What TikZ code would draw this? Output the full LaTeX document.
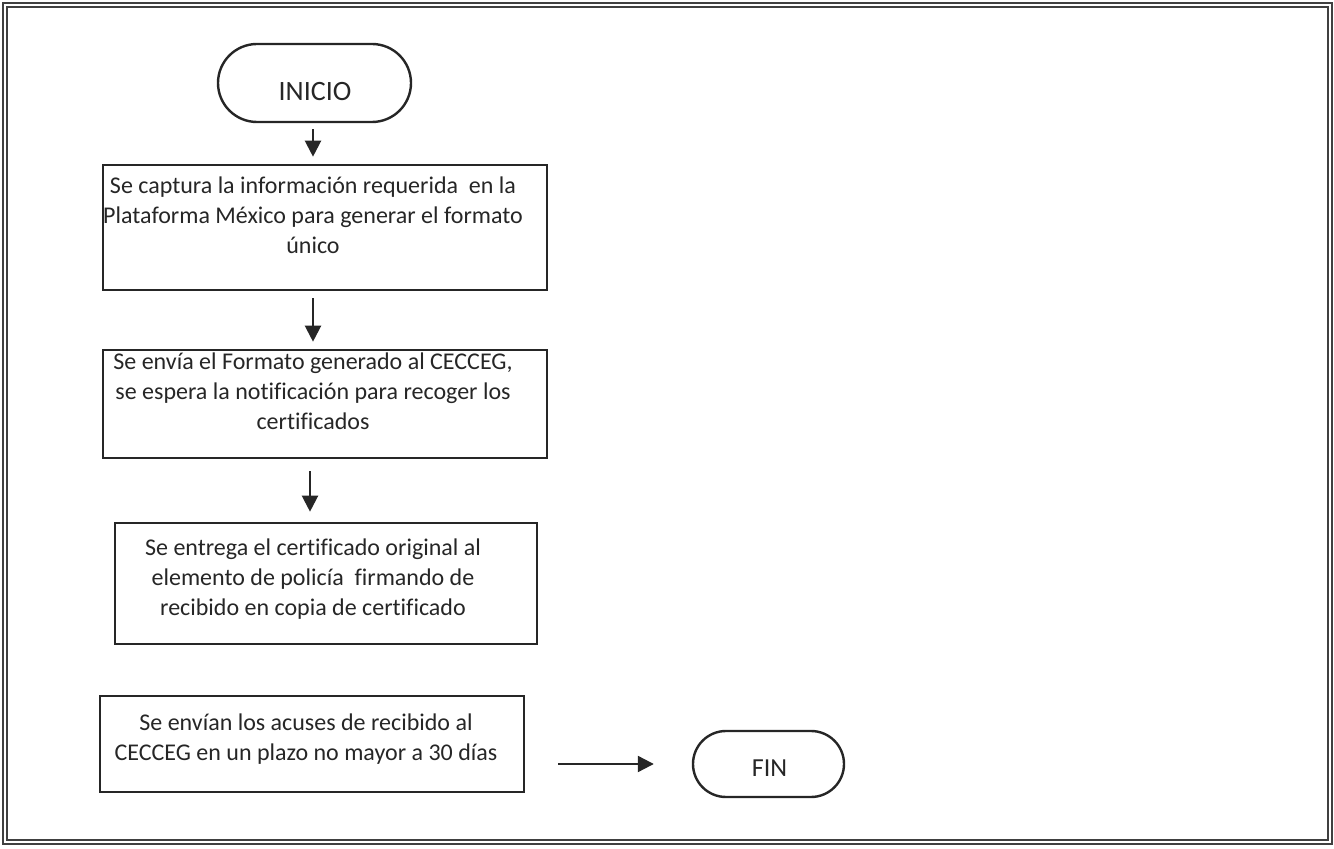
\documentclass[tikz,border=0pt]{standalone}
\usepackage{fontspec}
\setmainfont{Carlito}[Ligatures=NoCommon]
\usepackage{xcolor}
\usepackage{tikz}
\usetikzlibrary{arrows.meta,positioning,calc,shapes.misc}
\definecolor{ink}{HTML}{262626}

\begin{document}
\begin{tikzpicture}[x=0.5pt, y=-0.5pt, >={Triangle[length=8pt,width=8pt]}, line width=1pt, color=ink,
  font=\fontsize{12pt}{15pt}\selectfont,
  box/.style={draw=ink, line width=1.3pt, inner sep=0pt},
  term/.style={draw=ink, line width=1.2pt, rounded rectangle, inner sep=0pt},
  txt/.style={align=center, inner sep=0pt, text=ink},
  arr/.style={->, draw=ink, line width=1.1pt}]
\useasboundingbox (0,0) rectangle (1334,849);
%% frame
\draw[black!75, line width=0.7pt, double, double distance=1.2pt] (5,5) rectangle (1330,842);
%% shapes
\node[term, minimum width=96.5pt, minimum height=39pt] (inicio) at (314.5,83) {};
\node[box, minimum width=222pt, minimum height=62.5pt] (b1) at (325,227.5) {};
\node[box, minimum width=222pt, minimum height=54pt] (b2) at (325,404) {};
\node[box, minimum width=211pt, minimum height=60.5pt] (b3) at (326,583.5) {};
\node[box, minimum width=212pt, minimum height=48pt] (b4) at (312,744) {};
\node[term, minimum width=75.5pt, minimum height=33pt] (fin) at (768.5,764) {};
%% texts
\node[txt, font=\fontsize{14pt}{16pt}\selectfont] (tinicio) at (315,92) {INICIO};
\node[txt] (t1) at (313,215) {Se captura la información requerida~ en la\\Plataforma México para generar el formato\\único};
\node[txt] (t2) at (313,391) {Se envía el Formato generado al CECCEG,\\se espera la notificación para recoger los\\certificados};
\node[txt] (t3) at (313,579) {Se entrega el certificado original al\\elemento de policía~ firmando de\\recibido en copia de certificado};
\node[txt] (t4) at (306,739) {Se envían los acuses de recibido al\\CECCEG en un plazo no mayor a 30 días};
\node[txt, font=\fontsize{13pt}{15pt}\selectfont] (tfin) at (769.5,768) {FIN};
%% connectors
\draw[arr, shorten <=3pt, shorten >=3.5pt] (inicio.south -| t1) -- (b1.north -| t1);
\draw[arr, shorten <=3.5pt, shorten >=3.5pt] (b1.south -| t1) -- (b2.north -| t1);
\draw[arr, shorten <=6pt, shorten >=5pt] ($(b2.south -| t2)+(-3,0)$) -- ($(b3.north -| t2)+(-3,0)$);
\draw[arr, shorten <=16.5pt, shorten >=19pt] (b4.east |- fin) -- (fin.west);
\end{tikzpicture}
\end{document}
